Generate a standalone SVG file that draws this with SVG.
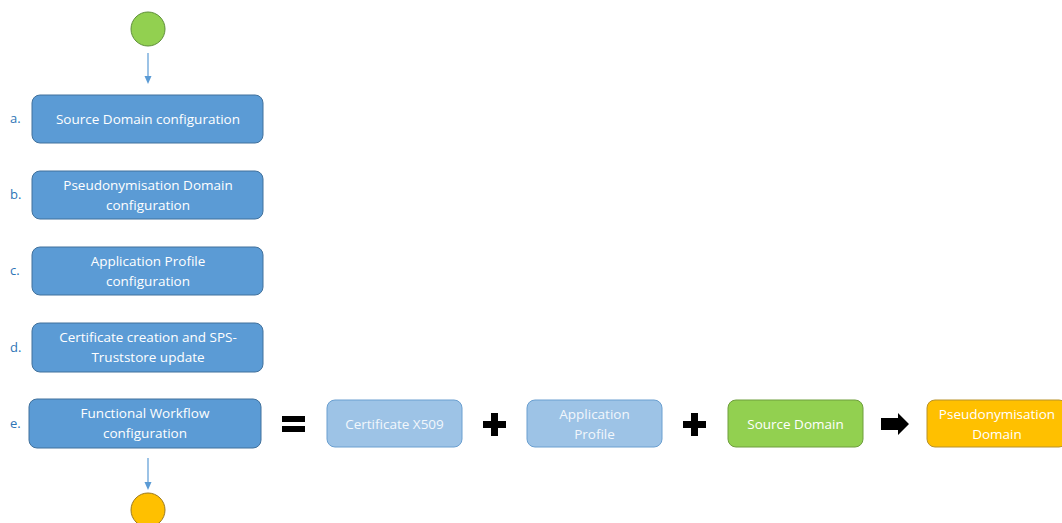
<svg xmlns="http://www.w3.org/2000/svg" width="1062" height="523" viewBox="0 0 1062 523">
<style>
.step{fill:#5b9bd5;stroke:#41719c;stroke-width:1}
.light{fill:#9dc3e6;stroke:#6a9fd0;stroke-width:1}
.green{fill:#92d050;stroke:#6e9e3c;stroke-width:1}
.orange{fill:#ffc000;stroke:#b8922a;stroke-width:1}
.t{font-family:"Open Sans","Liberation Sans",sans-serif;font-size:13.5px;fill:#ffffff;text-anchor:middle}
.lt{font-family:"Open Sans","Liberation Sans",sans-serif;font-size:13.5px;fill:#f2f7fc;text-anchor:middle}
.lbl{font-family:"Open Sans","Liberation Sans",sans-serif;font-size:13px;fill:#2e75b6}
.conn{stroke:#5b9bd5;stroke-width:1.2;fill:none}
.sym{fill:#000000}
</style>
<defs>
<marker id="ah" markerWidth="8" markerHeight="8" refX="4" refY="4" orient="auto" markerUnits="userSpaceOnUse">
<path d="M0,0.5 L8,4 L0,7.5 z" fill="#5b9bd5"/>
</marker>
</defs>
<g id="connectors">
<line class="conn" x1="148" y1="53" x2="148" y2="80" marker-end="url(#ah)"/>
<line class="conn" x1="148" y1="458" x2="148" y2="486" marker-end="url(#ah)"/>
</g>
<g id="start"><circle cx="148" cy="29" r="17" fill="#92d050" stroke="#5f8f3a" stroke-width="1"/></g>
<g id="end"><circle cx="148" cy="510" r="17" fill="#ffc000" stroke="#9c7a20" stroke-width="1"/></g>
<g id="step-a">
<text class="lbl" x="10" y="123">a.</text>
<rect class="step" x="32" y="95" width="231" height="48" rx="8"/>
<text class="t" x="148" y="124">Source Domain configuration</text>
</g>
<g id="step-b">
<text class="lbl" x="10" y="199">b.</text>
<rect class="step" x="32" y="171" width="231" height="48" rx="8"/>
<text class="t" x="148" y="190">Pseudonymisation Domain</text>
<text class="t" x="148" y="210">configuration</text>
</g>
<g id="step-c">
<text class="lbl" x="10" y="275">c.</text>
<rect class="step" x="32" y="247" width="231" height="48" rx="8"/>
<text class="t" x="148" y="266">Application Profile</text>
<text class="t" x="148" y="286">configuration</text>
</g>
<g id="step-d">
<text class="lbl" x="10" y="352">d.</text>
<rect class="step" x="32" y="323" width="231" height="49" rx="8"/>
<text class="t" x="148" y="342">Certificate creation and SPS-</text>
<text class="t" x="148" y="362">Truststore update</text>
</g>
<g id="step-e">
<text class="lbl" x="10" y="428">e.</text>
<rect class="step" x="29" y="399" width="232" height="49" rx="8"/>
<text class="t" x="145" y="418">Functional Workflow</text>
<text class="t" x="145" y="438">configuration</text>
</g>
<g id="equals">
<rect class="sym" x="282" y="416" width="23" height="6"/>
<rect class="sym" x="282" y="426" width="23" height="6"/>
</g>
<g id="cert">
<rect class="light" x="327" y="400" width="135" height="47" rx="8"/>
<text class="lt" x="394.5" y="429">Certificate X509</text>
</g>
<g id="plus1">
<path class="sym" d="M491,413 h7 v8 h8 v7 h-8 v8 h-7 v-8 h-8 v-7 h8 z"/>
</g>
<g id="appprofile">
<rect class="light" x="527" y="400" width="135" height="47" rx="8"/>
<text class="lt" x="594.5" y="419">Application</text>
<text class="lt" x="594.5" y="439">Profile</text>
</g>
<g id="plus2">
<path class="sym" d="M691,413 h7 v8 h8 v7 h-8 v8 h-7 v-8 h-8 v-7 h8 z"/>
</g>
<g id="sourcedomain">
<rect class="green" x="728" y="400" width="135" height="47" rx="8"/>
<text class="t" x="795.5" y="429">Source Domain</text>
</g>
<g id="arrow">
<path class="sym" d="M881,418 h17 v-5 l11,11 l-11,11 v-5 h-17 z"/>
</g>
<g id="pseudodomain">
<rect class="orange" x="927" y="400" width="140" height="47" rx="8"/>
<text class="t" x="997" y="419">Pseudonymisation</text>
<text class="t" x="997" y="439">Domain</text>
</g>
</svg>
